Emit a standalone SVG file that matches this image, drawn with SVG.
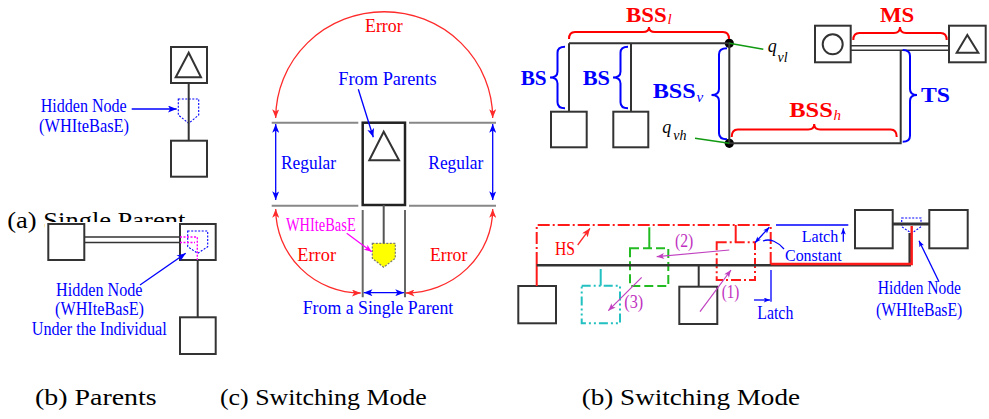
<svg xmlns="http://www.w3.org/2000/svg" width="989" height="419" viewBox="0 0 989 419">
<defs>
<style>
.bx{fill:#fff;stroke:#333;stroke-width:2}
.ln{fill:none;stroke:#333;stroke-width:2}
.t{font-family:"Liberation Serif","Times New Roman",serif}
.b{fill:#0000ff}
.r{fill:#ff0000}
.m{fill:#ff00ff}
.p{fill:#c030c0}
.k{fill:#000}
.bd{font-weight:bold}
.it{font-style:italic}
.hid{fill:none;stroke:#0000ff;stroke-width:1.1;stroke-dasharray:2,1.5}
.ab{fill:none;stroke:#0000ff;stroke-width:1.3}
.ar{fill:none;stroke:#ff2a2a;stroke-width:1.3}
.am{fill:none;stroke:#ff00ff;stroke-width:1.2}
.ap{fill:none;stroke:#c040c0;stroke-width:1.2}
.bb{fill:none;stroke:#0000ff;stroke-width:2}
.rb{fill:none;stroke:#ff0000;stroke-width:2}
.gl{fill:none;stroke:#888;stroke-width:2}
.cap{font-family:"Liberation Serif","Times New Roman",serif;font-size:23px;fill:#000}
</style>
<marker id="mB" viewBox="0 0 10 8" refX="10" refY="4" markerWidth="9" markerHeight="7" markerUnits="userSpaceOnUse" orient="auto-start-reverse"><path d="M0,0 L10,4 L0,8 L2.5,4 z" fill="#0000ff"/></marker>
<marker id="mR" viewBox="0 0 10 8" refX="10" refY="4" markerWidth="9" markerHeight="7" markerUnits="userSpaceOnUse" orient="auto-start-reverse"><path d="M0,0 L10,4 L0,8 L2.5,4 z" fill="#ff2a2a"/></marker>
<marker id="mM" viewBox="0 0 10 8" refX="10" refY="4" markerWidth="8" markerHeight="6" markerUnits="userSpaceOnUse" orient="auto-start-reverse"><path d="M0,0 L10,4 L0,8 L2.5,4 z" fill="#ff00ff"/></marker>
<marker id="mP" viewBox="0 0 10 8" refX="10" refY="4" markerWidth="8" markerHeight="6" markerUnits="userSpaceOnUse" orient="auto-start-reverse"><path d="M0,0 L10,4 L0,8 L2.5,4 z" fill="#c040c0"/></marker>
<marker id="mBs" viewBox="0 0 10 8" refX="10" refY="4" markerWidth="7" markerHeight="5" markerUnits="userSpaceOnUse" orient="auto-start-reverse"><path d="M0,0 L10,4 L0,8 L2.5,4 z" fill="#0000ff"/></marker>
<clipPath id="capclip"><rect x="0" y="195" width="45" height="45"/><rect x="0" y="195" width="250" height="27"/></clipPath>
</defs>
<rect x="0" y="0" width="989" height="419" fill="#fff"/>

<!-- ============ Panel (a) single parent ============ -->
<g id="a-parent"><rect class="bx" x="171" y="47" width="36" height="36"/><path class="ln" d="M188.7 52.7 L175.7 77.3 H201 Z"/></g>
<g id="a-child"><rect class="bx" x="171" y="140.7" width="36" height="36"/></g>
<g id="a-hidden"><path class="hid" d="M178.3 99 H198.7 V115 L188.7 123.3 L178.3 115 Z"/></g>

<!-- ============ Panel (b) parents ============ -->
<g id="b-left"><rect class="bx" x="48.3" y="224" width="36" height="36"/></g>
<g id="b-right"><rect class="bx" x="180" y="224" width="35.7" height="36"/></g>
<g id="b-child"><rect class="bx" x="180" y="317.3" width="35.7" height="36.7"/></g>
<g id="b-hidden"><path class="hid" d="M187.7 231 H207.7 V246.7 L197.7 253.3 L187.7 246.7 Z"/><path d="M180 237 H197.3 V260 M180 242.5 H195" fill="none" stroke="#ff00ff" stroke-width="1.4" stroke-dasharray="2,1.5"/></g>

<!-- ============ Panel (c) switching mode ============ -->
<g id="c-node"><rect x="362.7" y="122.7" width="42.3" height="82.3" fill="#fff" stroke="#222" stroke-width="2.5"/><path class="ln" d="M383.7 131.7 L369.3 160.3 H399 Z" stroke="#222"/></g>
<g id="c-hidden"><path d="M372.3 243.3 H395.3 V258.3 L383.7 267.3 L372.3 258.3 Z" fill="#ffff00" stroke="#777" stroke-width="1.2" stroke-dasharray="2,1.5"/></g>
<g id="c-bounds">
<path class="gl" d="M271.7 122.7 H358.3 M409 122.7 H496 M271.7 205.7 H358.3 M409 205.7 H496"/>
<path d="M362.7 210 V297.3 M405 210 V297.3" fill="none" stroke="#666" stroke-width="2"/>
</g>

<!-- ============ Panel right-top ============ -->
<g id="rt-child1"><rect class="bx" x="551" y="111.7" width="35.7" height="35.6"/></g>
<g id="rt-child2"><rect class="bx" x="613.3" y="111.7" width="35" height="35.6"/></g>
<g id="rt-circle"><rect class="bx" x="815" y="25.7" width="35.7" height="36.6"/><circle cx="832.7" cy="44.3" r="10" class="ln"/></g>
<g id="rt-triangle"><rect class="bx" x="949" y="25.7" width="36.7" height="36.6"/><path class="ln" d="M967.3 35 L956.7 52.7 H978.3 Z"/></g>
<g id="rt-qvl"><circle cx="729.3" cy="43.3" r="4.6" fill="#000"/></g>
<g id="rt-qvh"><circle cx="729.3" cy="143.3" r="4.6" fill="#000"/></g>

<!-- ============ Panel right-bottom ============ -->
<g id="rb-left"><rect class="bx" x="518.3" y="286" width="37.7" height="37.3"/></g>
<g id="rb-mid"><rect class="bx" x="679.3" y="286.7" width="38" height="37.3"/></g>
<g id="rb-green"><rect x="630" y="248.3" width="38.3" height="37.7" fill="none" stroke="#22bb22" stroke-width="2" stroke-dasharray="9,4"/></g>
<g id="rb-cyan"><rect x="581.7" y="285.7" width="38.3" height="37.6" fill="none" stroke="#22c0c0" stroke-width="2" stroke-dasharray="9,3,2,3,2,3"/></g>
<g id="rb-red"><rect x="716.7" y="242.3" width="38.3" height="37.7" fill="none" stroke="#ff1a1a" stroke-width="2" stroke-dasharray="10,3,2,3"/></g>
<g id="rb-hs"><path d="M536.7 264 V225 H770.7 V264" fill="none" stroke="#ff1a1a" stroke-width="2" stroke-dasharray="12,3,2,3"/></g>
<g id="rb-p1"><rect class="bx" x="855" y="210" width="37.7" height="38.3"/></g>
<g id="rb-p2"><rect class="bx" x="929.3" y="210" width="38.4" height="38.3"/></g>
<g id="rb-hidden"><path class="hid" d="M901.7 218 H921 V226.7 L911.7 233.3 L901.7 226.7 Z"/></g>

<!-- ============ Connectors ============ -->
<g id="connectors">
<path class="ln" d="M188.7 83 V140.7" stroke-width="1.8"/>
<path class="ab" d="M131.7 109 H176.7" marker-end="url(#mB)"/>
<path d="M84.3 237 H180 M84.3 242.5 H180" fill="none" stroke="#333" stroke-width="1.5"/>
<path class="ln" d="M197.7 260 V317.3" stroke-width="1.8"/>
<path class="ab" d="M140 285 L185.7 253.3" marker-end="url(#mB)"/>
<path d="M383.7 205 V243.3" fill="none" stroke="#555" stroke-width="2"/>
<path class="ar" d="M275.7 118 A108.5 106.3 0 0 1 492.7 118" marker-start="url(#mR)" marker-end="url(#mR)"/>
<path class="ab" d="M275.7 124 V200" marker-start="url(#mB)" marker-end="url(#mB)"/>
<path class="ab" d="M492.7 124 V200" marker-start="url(#mB)" marker-end="url(#mB)"/>
<path class="ar" d="M275.7 209 A85 84 0 0 0 360.7 293" marker-start="url(#mR)" marker-end="url(#mR)"/>
<path class="ar" d="M492.7 209 A87 84 0 0 1 405.7 293" marker-start="url(#mR)" marker-end="url(#mR)"/>
<path class="ab" d="M363.7 292.7 H404" marker-start="url(#mB)" marker-end="url(#mB)"/>
<path class="ab" d="M358.3 89.3 L373.3 137.3" marker-end="url(#mB)"/>
<path class="am" d="M346.7 233.3 L371.7 251.7" marker-end="url(#mM)"/>
<path class="ln" d="M569 43.3 H729.3 V143.3 H900.7 V50.2 M569 43.3 V111.7 M631 43.3 V111.7"/>
<path d="M850.7 45.8 H949 M850.7 50.2 H949" fill="none" stroke="#333" stroke-width="1.6"/>
<path d="M729.3 43.3 L763.3 49.3 M695 138.3 L729.3 143.3" fill="none" stroke="#119911" stroke-width="1.5"/>
<path class="rb" d="M569 39 Q569 32 575 32 H643 Q649 32 649 27 Q649 32 655 32 H723 Q729 32 729 39"/>
<path class="rb" d="M853.3 40 Q853.3 33 859.3 33 H894 Q900 33 900 27 Q900 33 906 33 H940.7 Q946.7 33 946.7 40"/>
<path class="rb" d="M731.7 137 Q731.7 129.5 737.7 129.5 H808.2 Q814.2 129.5 814.2 124 Q814.2 129.5 820.2 129.5 H890.7 Q896.7 129.5 896.7 137"/>
<path class="bb" d="M565 46.7 Q557.5 46.7 557.5 52.7 V71.5 Q557.5 77.5 550 77.5 Q557.5 77.5 557.5 83.5 V102.3 Q557.5 108.3 565 108.3"/>
<path class="bb" d="M628 46.7 Q620.5 46.7 620.5 52.7 V71.5 Q620.5 77.5 613 77.5 Q620.5 77.5 620.5 83.5 V102.3 Q620.5 108.3 628 108.3"/>
<path class="bb" d="M727 48.3 Q719 48.3 719 54.3 V89 Q719 95 711.5 95 Q719 95 719 101 V133.3 Q719 139.3 727 139.3"/>
<path class="bb" d="M902.7 50 Q910 50 910 56 V89 Q910 95 917 95 Q910 95 910 101 V135.7 Q910 141.7 902.7 141.7"/>
<path d="M536.7 264 V286" fill="none" stroke="#ff1a1a" stroke-width="2"/>
<path d="M735.7 225 V242.3" fill="none" stroke="#ff1a1a" stroke-width="2"/>
<path d="M649.3 227.3 V248.3" fill="none" stroke="#22bb22" stroke-width="2"/>
<path d="M600.7 269 V285.7" fill="none" stroke="#22c0c0" stroke-width="2"/>
<path d="M698.7 265 V286.7" fill="none" stroke="#333" stroke-width="2"/>
<path d="M536.7 265.2 H909.7 V233" fill="none" stroke="#333" stroke-width="2.5"/>
<path d="M770.7 264 H911.7 V226" fill="none" stroke="#ff1a1a" stroke-width="2.4"/>
<path d="M892.7 224 H929.3" fill="none" stroke="#333" stroke-width="3"/>
<path class="ap" d="M700 311.7 L731 270" marker-end="url(#mP)"/>
<path class="ap" d="M729.3 250 L656.7 256.7" marker-end="url(#mP)"/>
<path class="ap" d="M641.7 277.3 L608.3 310.7" marker-end="url(#mP)"/>
<path class="ar" d="M577.7 245 L590 228.3" marker-end="url(#mR)" stroke-width="1.1"/>
<path class="ab" d="M755 242.7 L769.3 227.3" stroke-width="1" marker-start="url(#mBs)" marker-end="url(#mBs)"/>
<path class="ab" d="M763 241 C770 238 778 242 784 249" stroke-width="1"/>
<path class="ab" d="M776 225 H848.3 M771 270 V301.7" stroke-width="1"/>
<path class="ab" d="M843.3 241.7 V228.3" stroke-width="1" marker-end="url(#mBs)"/>
<path class="ab" d="M754 300 H770" stroke-width="1" marker-end="url(#mBs)"/>
<path class="ab" d="M939 281.7 L919 240.7" stroke-width="1" marker-end="url(#mBs)"/>
</g>

<!-- ============ Labels ============ -->
<g id="labels" class="t">
<text class="b" x="40.7" y="111.7" font-size="19" textLength="86" lengthAdjust="spacingAndGlyphs">Hidden Node</text>
<text class="b" x="39" y="131.7" font-size="19" textLength="90" lengthAdjust="spacingAndGlyphs">(WHIteBasE)</text>
<text class="b" x="56" y="295.5" font-size="19" textLength="86.5" lengthAdjust="spacingAndGlyphs">Hidden Node</text>
<text class="b" x="55" y="315" font-size="19" textLength="89" lengthAdjust="spacingAndGlyphs">(WHIteBasE)</text>
<text class="b" x="31.7" y="335" font-size="19" textLength="135" lengthAdjust="spacingAndGlyphs">Under the Individual</text>

<text class="r" x="365" y="31.7" font-size="19" textLength="37.7" lengthAdjust="spacingAndGlyphs">Error</text>
<text class="b" x="338.3" y="85" font-size="19" textLength="98.4" lengthAdjust="spacingAndGlyphs">From Parents</text>
<text class="b" x="281" y="169.3" font-size="19" textLength="55" lengthAdjust="spacingAndGlyphs">Regular</text>
<text class="b" x="428.3" y="169.3" font-size="19" textLength="55" lengthAdjust="spacingAndGlyphs">Regular</text>
<text class="m" x="286" y="230.7" font-size="19" textLength="69.7" lengthAdjust="spacingAndGlyphs">WHIteBasE</text>
<text class="r" x="297.3" y="261" font-size="19" textLength="38.7" lengthAdjust="spacingAndGlyphs">Error</text>
<text class="r" x="430" y="261" font-size="19" textLength="37.3" lengthAdjust="spacingAndGlyphs">Error</text>
<text class="b" x="302.7" y="314" font-size="19" textLength="150.6" lengthAdjust="spacingAndGlyphs">From a Single Parent</text>

<text class="r bd" x="626" y="21.7" font-size="22" textLength="40.7" lengthAdjust="spacingAndGlyphs">BSS</text>
<text class="r it" x="667.5" y="24" font-size="15">l</text>
<text class="b bd" x="520.7" y="85" font-size="22" textLength="26" lengthAdjust="spacingAndGlyphs">BS</text>
<text class="b bd" x="582.7" y="85" font-size="22" textLength="27.3" lengthAdjust="spacingAndGlyphs">BS</text>
<text class="b bd" x="652.7" y="98.3" font-size="22" textLength="43" lengthAdjust="spacingAndGlyphs">BSS</text>
<text class="b it" x="696.5" y="101.7" font-size="15">v</text>
<text class="r bd" x="789.3" y="117.3" font-size="22" textLength="43.5" lengthAdjust="spacingAndGlyphs">BSS</text>
<text class="r it" x="833.5" y="119.5" font-size="15">h</text>
<text class="r bd" x="880" y="21.7" font-size="22" textLength="34.3" lengthAdjust="spacingAndGlyphs">MS</text>
<text class="b bd" x="921" y="101.7" font-size="22" textLength="29" lengthAdjust="spacingAndGlyphs">TS</text>
<text class="k it" x="767.7" y="51.5" font-size="18">q</text>
<text class="k it" x="777.5" y="61.5" font-size="14">vl</text>
<text class="k it" x="662.3" y="132.5" font-size="18">q</text>
<text class="k it" x="673.3" y="140" font-size="14">vh</text>

<text class="r" x="555" y="255" font-size="18" textLength="20" lengthAdjust="spacingAndGlyphs">HS</text>
<text class="p" x="721.7" y="297.5" font-size="18" textLength="17.6" lengthAdjust="spacingAndGlyphs">(1)</text>
<text class="p" x="675" y="247" font-size="18" textLength="18.3" lengthAdjust="spacingAndGlyphs">(2)</text>
<text class="p" x="624.3" y="307.5" font-size="18" textLength="19" lengthAdjust="spacingAndGlyphs">(3)</text>
<text class="b" x="801.7" y="241.5" font-size="17" textLength="36.6" lengthAdjust="spacingAndGlyphs">Latch</text>
<text class="b" x="785" y="260.5" font-size="17" textLength="56.7" lengthAdjust="spacingAndGlyphs">Constant</text>
<text class="b" x="757.3" y="319.3" font-size="18" textLength="36" lengthAdjust="spacingAndGlyphs">Latch</text>
<text class="b" x="877.7" y="294.3" font-size="18" textLength="83.3" lengthAdjust="spacingAndGlyphs">Hidden Node</text>
<text class="b" x="876" y="316" font-size="18" textLength="86.3" lengthAdjust="spacingAndGlyphs">(WHIteBasE)</text>
</g>

<g id="captions">
<text class="cap" x="7.3" y="228" textLength="178" lengthAdjust="spacingAndGlyphs" clip-path="url(#capclip)">(a) Single Parent</text>
<text class="cap" x="35" y="405" textLength="121.7" lengthAdjust="spacingAndGlyphs">(b) Parents</text>
<text class="cap" x="220" y="405" textLength="206.7" lengthAdjust="spacingAndGlyphs">(c) Switching Mode</text>
<text class="cap" x="581.7" y="405" textLength="218.3" lengthAdjust="spacingAndGlyphs">(b) Switching Mode</text>
</g>
</svg>
